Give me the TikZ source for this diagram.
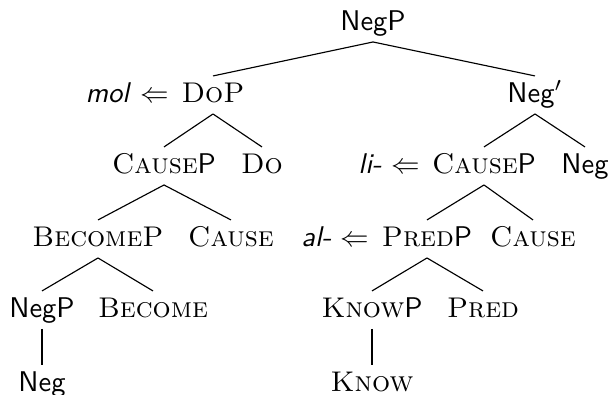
\documentclass[tikz,border=0pt]{standalone}
\begin{document}
\begin{tikzpicture}[x=0.351pt,y=-0.351pt,
  cat/.style={inner sep=2pt, text height=6.95pt, text depth=2pt, anchor=base},
  mv/.style={inner sep=2pt, text height=6.95pt, text depth=2pt, anchor=base east},
  branch/.style={line width=0.4pt}]
\useasboundingbox (0,0) rectangle (611,394);
% level 1
\node[cat] (negp) at (373,30) {\textsf{NegP}};
% level 2
\node[cat] (dop) at (213,102) {\textsc{DoP}};
\node[mv] (mol) at (dop.base west) {\textsf{\itshape mol} $\Leftarrow$};
\node[cat] (negbar) at (535,102) {\textsf{Neg}$'$};
% level 3
\node[cat] (causepL) at (164,173) {\textsc{Cause}\textsf{P}};
\node[cat] (do) at (262,173) {\textsc{Do}};
\node[cat] (causepR) at (484,173) {\textsc{Cause}\textsf{P}};
\node[mv] (li) at (causepR.base west) {\textsf{\itshape li-} $\Leftarrow$};
\node[cat] (neg) at (585,173) {\textsf{Neg}};
% level 4
\node[cat] (becomep) at (98,246) {\textsc{BecomeP}};
\node[cat] (causeL) at (231,246) {\textsc{Cause}};
\node[cat] (predp) at (427,246) {\textsc{Pred}\textsf{P}};
\node[mv] (al) at (predp.base west) {\textsf{\itshape al-} $\Leftarrow$};
\node[cat] (causeR) at (533,246) {\textsc{Cause}};
% level 5
\node[cat] (negp2) at (42,317) {\textsf{NegP}};
\node[cat] (become) at (153,317) {\textsc{Become}};
\node[cat] (knowp) at (372,317) {\textsc{Know}\textsf{P}};
\node[cat] (pred) at (483,317) {\textsc{Pred}};
% level 6
\node[cat] (neg2) at (42,391) {\textsf{Neg}};
\node[cat] (know) at (372,391) {\textsc{Know}};
% branches
\draw[branch] (negp.south) -- (dop.north);
\draw[branch] (negp.south) -- (negbar.north);
\draw[branch] (dop.south) -- (causepL.north);
\draw[branch] (dop.south) -- (do.north);
\draw[branch] (negbar.south) -- (causepR.north);
\draw[branch] (negbar.south) -- (neg.north);
\draw[branch] (causepL.south) -- (becomep.north);
\draw[branch] (causepL.south) -- (causeL.north);
\draw[branch] (causepR.south) -- (predp.north);
\draw[branch] (causepR.south) -- (causeR.north);
\draw[branch] (becomep.south) -- (negp2.north);
\draw[branch] (becomep.south) -- (become.north);
\draw[branch] (predp.south) -- (knowp.north);
\draw[branch] (predp.south) -- (pred.north);
\draw[branch] (negp2.south) -- (neg2.north);
\draw[branch] (knowp.south) -- (know.north);
\end{tikzpicture}
\end{document}
